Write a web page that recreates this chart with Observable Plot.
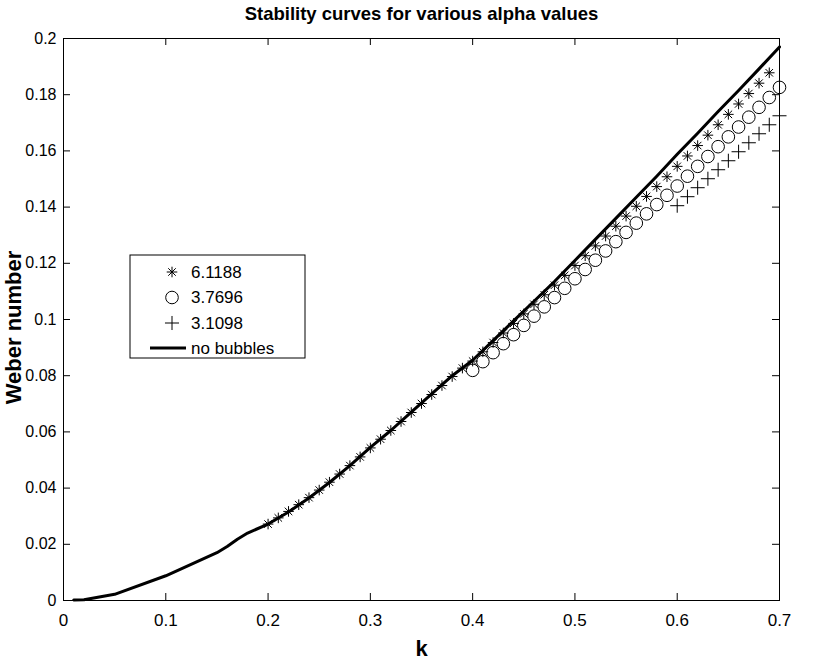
<!DOCTYPE html>
<html><head><meta charset="utf-8">
<script src="https://cdn.jsdelivr.net/npm/d3@7"></script>
<script src="https://cdn.jsdelivr.net/npm/@observablehq/plot@0.6"></script>
<style>body{margin:0;background:#fff;font-family:"Liberation Sans",Arial,sans-serif}</style>
</head><body><div id="chart"></div>
<script>
// ---- data ----
const title = "Stability curves for various alpha values";
const xLabel = "k";
const yLabel = "Weber number";
const xTicks = [0, 0.1, 0.2, 0.3, 0.4, 0.5, 0.6, 0.7];
const yTicks = [0, 0.02, 0.04, 0.06, 0.08, 0.1, 0.12, 0.14, 0.16, 0.18, 0.2];
const seriesNames = ["6.1188", "3.7696", "3.1098", "no bubbles"];

// no bubbles (solid line)
const kLine = [0.01, 0.02, 0.05, 0.10, 0.15, 0.16, 0.17, 0.18, 0.20, 0.22, 0.24, 0.26, 0.28, 0.30, 0.32, 0.34, 0.36, 0.38, 0.40, 0.42, 0.44, 0.46, 0.48, 0.50, 0.52, 0.54, 0.56, 0.58, 0.60, 0.62, 0.64, 0.66, 0.68, 0.70];
const wLine = [0.0002, 0.0003, 0.0022, 0.0088, 0.0170, 0.0192, 0.0218, 0.0240, 0.0272, 0.0315, 0.0365, 0.0420, 0.0480, 0.0545, 0.0605, 0.0670, 0.0735, 0.0800, 0.0855, 0.0925, 0.0995, 0.1065, 0.1135, 0.1210, 0.1285, 0.1360, 0.1435, 0.1510, 0.1588, 0.1663, 0.1740, 0.1815, 0.1892, 0.1970];

// alpha = 6.1188 (asterisks)
const kStar = [0.20,0.21,0.22,0.23,0.24,0.25,0.26,0.27,0.28,0.29,0.30,0.31,0.32,0.33,0.34,0.35,0.36,0.37,0.38,0.39,0.40,0.41,0.42,0.43,0.44,0.45,0.46,0.47,0.48,0.49,0.50,0.51,0.52,0.53,0.54,0.55,0.56,0.57,0.58,0.59,0.60,0.61,0.62,0.63,0.64,0.65,0.66,0.67,0.68,0.69];
const wStar = [0.0272,0.0294,0.0317,0.0341,0.0366,0.0393,0.0421,0.0450,0.0480,0.0511,0.0543,0.0574,0.0605,0.0637,0.0669,0.0701,0.0733,0.0765,0.0797,0.0827,0.0852,0.0885,0.0918,0.0952,0.0986,0.1020,0.1054,0.1088,0.1122,0.1157,0.1192,0.1227,0.1262,0.1297,0.1332,0.1368,0.1403,0.1438,0.1473,0.1508,0.1545,0.1582,0.1619,0.1656,0.1693,0.1730,0.1767,0.1804,0.1841,0.1878];

// alpha = 3.7696 (circles)
const kCirc = [0.40,0.41,0.42,0.43,0.44,0.45,0.46,0.47,0.48,0.49,0.50,0.51,0.52,0.53,0.54,0.55,0.56,0.57,0.58,0.59,0.60,0.61,0.62,0.63,0.64,0.65,0.66,0.67,0.68,0.69,0.70];
const wCirc = [0.0819,0.0850,0.0882,0.0914,0.0946,0.0979,0.1012,0.1045,0.1078,0.1111,0.1145,0.1178,0.1211,0.1244,0.1277,0.1310,0.1343,0.1376,0.1409,0.1442,0.1475,0.1510,0.1545,0.1580,0.1615,0.1650,0.1685,0.1720,0.1755,0.1790,0.1826];

// alpha = 3.1098 (plus)
const kPlus = [0.60,0.61,0.62,0.63,0.64,0.65,0.66,0.67,0.68,0.69,0.70];
const wPlus = [0.1405,0.1437,0.1469,0.1501,0.1533,0.1565,0.1597,0.1629,0.1661,0.1693,0.1725];

// ---- build ----
const zip = (ks, ws) => ks.map((k, i) => ({k, w: ws[i]}));
const lineData = zip(kLine, wLine);
const starData = zip(kStar, wStar);
const circData = zip(kCirc, wCirc);
const plusData = zip(kPlus, wPlus);

const W = 820, H = 664, mL = 63, mR = 41, mT = 38, mB = 64;
const innerW = W - mL - mR, innerH = H - mT - mB;
const fmt = d => String(+d.toFixed(2));
const font = "'Liberation Sans', Arial, Helvetica, sans-serif";

const chart = Plot.plot({
  width: W, height: H,
  marginLeft: mL, marginRight: mR, marginTop: mT, marginBottom: mB,
  x: {domain: [0, 0.7]},
  y: {domain: [0, 0.2]},
  style: {fontFamily: font, fontSize: "16px", background: "white", color: "black"},
  marks: [
    Plot.axisX(xTicks, {tickSize: 0, tickPadding: 13, tickFormat: fmt, fontSize: 17, label: null}),
    Plot.axisY(yTicks, {tickSize: 0, tickPadding: 7, tickFormat: fmt, fontSize: 16, label: null}),
    Plot.tickX(xTicks, {x: d => d, insetTop: innerH - 7, stroke: "black"}),
    Plot.tickX(xTicks, {x: d => d, insetBottom: innerH - 7, stroke: "black"}),
    Plot.tickY(yTicks, {y: d => d, insetRight: innerW - 7, stroke: "black"}),
    Plot.tickY(yTicks, {y: d => d, insetLeft: innerW - 7, stroke: "black"}),
    Plot.frame({stroke: "black", strokeWidth: 1}),
    Plot.line(lineData, {x: "k", y: "w", stroke: "black", strokeWidth: 3}),
    Plot.dot(starData, {x: "k", y: "w", symbol: "plus", r: 3.5, stroke: "black", strokeWidth: 1}),
    Plot.dot(starData, {x: "k", y: "w", symbol: "times", r: 3.5, stroke: "black", strokeWidth: 1}),
    Plot.dot(circData, {x: "k", y: "w", symbol: "circle", r: 6.3, stroke: "black", fill: "none", strokeWidth: 1}),
    Plot.dot(plusData, {x: "k", y: "w", symbol: "plus", r: 4.6, stroke: "black", strokeWidth: 1}),
    Plot.text([title], {frameAnchor: "top", dy: -32, fontWeight: "bold", fontSize: 18.5, fill: "black", textAnchor: "middle"}),
    Plot.text([xLabel], {frameAnchor: "bottom", dy: 55, fontWeight: "bold", fontSize: 22, fill: "black", textAnchor: "middle"}),
    Plot.text([yLabel], {frameAnchor: "left", dx: -50, dy: 8, rotate: -90, fontWeight: "bold", fontSize: 22, fill: "black", textAnchor: "middle"})
  ]
});
document.getElementById("chart").appendChild(chart);

// ---- legend (inside plot area) ----
const svg = d3.select(chart);
const lg = svg.append("g").attr("font-family", font).attr("font-size", 17).attr("text-anchor", "start");
const bx = 130, by = 255, bw = 175, bh = 103;
lg.append("rect").attr("x", bx).attr("y", by).attr("width", bw).attr("height", bh)
  .attr("fill", "white").attr("stroke", "black").attr("stroke-width", 1);
const rows = [272, 297.5, 323, 348];
const mx = 172;
seriesNames.forEach((name, i) => {
  const cy = rows[i];
  const g = lg.append("g").attr("transform", `translate(${mx},${cy})`).attr("stroke", "black").attr("fill", "none");
  if (i === 0) {
    g.append("path").attr("d", d3.symbol(d3.symbolPlus, Math.PI * 3.5 * 3.5)());
    g.append("path").attr("d", d3.symbol(d3.symbolTimes, Math.PI * 3.5 * 3.5)());
  } else if (i === 1) {
    g.append("circle").attr("r", 6.3);
  } else if (i === 2) {
    g.append("path").attr("d", d3.symbol(d3.symbolPlus, Math.PI * 4.6 * 4.6)());
  } else {
    g.append("line").attr("x1", -22).attr("x2", 14).attr("stroke-width", 3);
  }
  lg.append("text").attr("x", 191).attr("y", cy).attr("dy", "0.35em")
    .attr("text-anchor", "start").style("text-anchor", "start").attr("fill", "black").text(name);
});
</script>
</body></html>
